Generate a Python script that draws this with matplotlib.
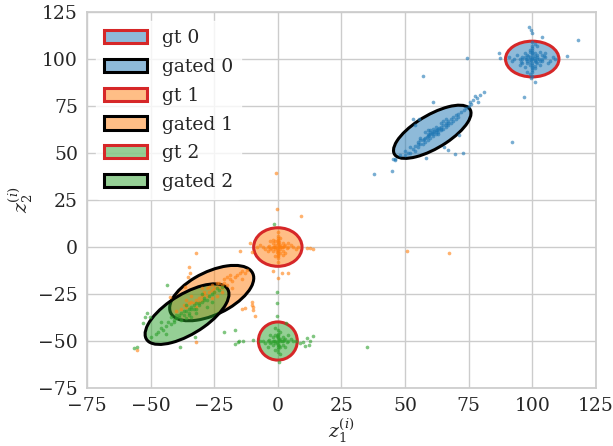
import matplotlib
matplotlib.use('Agg')
import matplotlib.pyplot as plt
from matplotlib.patches import Ellipse, Patch
import numpy as np
import seaborn as sns

# ---- points ----------------------------------------------------------------
blue_gt_x = [100, 99, 101, 98, 102, 100, 100, 97, 103, 99, 101, 96, 104, 100, 100, 98, 102, 98, 102,
             95, 105, 100, 100, 93, 107, 99, 101, 91, 109, 97, 103, 96, 104, 99, 101, 94, 106, 100, 100,
             92, 108, 97, 103, 95, 105, 98, 102,
             100, 99.5, 100.5, 99, 101, 100, 100, 98.5, 101.5, 99, 101, 97.5, 102.5, 100, 100, 96, 104,
             98, 102, 99, 101, 100, 100, 95.5, 104.5,
             98.7, 99.4, 99.8, 104, 118, 113.7, 87, 87.3, 101, 99.4, 96.8]
blue_gt_y = [100, 101, 99, 100, 100, 98, 102, 101, 99, 97, 103, 100, 100, 96, 104, 98, 102, 102, 98,
             100, 101, 94, 106, 100, 99, 92, 108, 101, 100, 103, 97, 98, 102, 105, 95, 102, 98, 91, 109,
             99, 101, 96, 104, 97, 103, 93, 107,
             100.5, 99.5, 100.5, 100, 99.5, 97, 103, 101.5, 98.5, 98.5, 101.5, 100, 100, 95, 105, 101, 99,
             99, 101, 103.5, 96.5, 93, 107, 98.5, 101.5,
             117, 115.5, 114, 111.5, 110, 101.6, 103, 100.7, 87.6, 90, 80]

blue_gated_x = [48, 50, 51, 52, 53, 54, 55, 55, 56, 57, 57, 58, 58, 59, 59, 60, 60, 61, 61, 62, 62, 63,
                63, 64, 64, 65, 65, 66, 66, 67, 67, 68, 69, 69, 70, 71, 71, 72, 73, 74, 75, 76, 56, 60,
                64, 68, 52, 62, 58, 66, 70, 50, 46, 54, 61, 63, 59, 65,
                57.5, 58.5, 59.5, 60.5, 61.5, 62.5, 63.5, 60, 61, 62, 59, 64, 56, 55, 66, 67,
                75.5, 76.8, 78.1, 78.8, 79.4, 81.1, 77.5, 57.1, 61.1, 74.4, 91.9, 44.7, 58.4, 69.6,
                72.6, 67, 65.3, 71.2, 53.2, 55.6, 53.9, 45.4, 37.9, 46]
blue_gated_y = [49, 51, 50, 53, 52, 54, 53, 56, 55, 57, 55, 58, 56, 59, 57, 60, 58, 61, 59, 62, 60, 63,
                61, 64, 62, 65, 63, 66, 64, 67, 65, 68, 69, 67, 70, 71, 69, 72, 73, 74, 75, 76, 58, 62,
                66, 66, 50, 64, 61, 68, 68, 49, 47, 51, 63, 60, 62, 67,
                57.5, 58.5, 59.5, 60.5, 61.5, 62.5, 63.5, 61, 60, 61, 60, 63, 57, 55, 65, 66,
                77.3, 78.2, 79.1, 77.3, 80.8, 82.3, 80.3, 91, 77.3, 100.7, 55.7, 40.6, 47.5, 49.3,
                49.8, 51.6, 53.4, 59.6, 68.1, 68.1, 64.9, 46.7, 38.7, 46.3]

orange_gt_x = [0, 1, -1, 2, -2, 0, 0, 3, -3, 1, -1, 4, -4, 0, 0, 5, -5, 1, -1, 6, -6, 0, 0, 2, -2, 2,
               -2, 7, -7, 3, -3, 8, -8, 0, 0, 1, -1, 4, -4, 2, -2,
               0.5, -0.5, 0, 0, 1.5, -1.5, 0, 0, 2.5, -2.5, 0.5, -0.5, 1, -1, 3.5, -3.5, 0, 0,
               -0.7, -0.2, 9, 11.3, 12.6, 13.7, -11, -10.3, 4.1, 1.5, 0.2, -1.8, 50.6, 67.2]
orange_gt_y = [0, 1, -1, 0, 0, 2, -2, 1, -1, -3, 3, 0, 0, 4, -4, 1, -1, 5, -5, 0, 0, 6, -6, 2, -2, -2,
               2, -1, 1, -3, 3, 0, 0, 8, -8, -1, 1, 2, -2, -4, 4,
               0.5, -0.5, 1.5, -1.5, 0, 0, 3, -3, 0.5, -0.5, 2.5, -2.5, 0, 0, -0.5, 0.5, 5, -5,
               39.2, 20, 16.5, -0.7, -0.7, -1, 2.3, -2.5, -14, -13.7, -16.6, -12.8, -2, -3.4]

orange_gated_x = [-40, -38, -37, -36, -35, -34, -33, -32, -31, -30, -30, -29, -28, -27, -26, -25, -24,
                  -23, -22, -21, -20, -19, -18, -17, -16, -15, -14, -13, -12, -28, -24, -20, -32, -26,
                  -18, -34, -22, -36, -14, -30,
                  -27, -25, -23, -21, -29, -19, -26, -24, -22, -31,
                  -32.3, -34.8, -14.9, -34.5, -35.2, -36.5, -42.4, -9.7, -9, -10.3, -32.2, -55.5,
                  -10, -9.7, -12.9, -14.2]
orange_gated_y = [-34, -33, -31, -32, -30, -29, -30, -28, -27, -26, -28, -25, -26, -24, -23, -24, -21,
                  -22, -20, -19, -20, -17, -18, -16, -15, -14, -13, -14, -12, -22, -26, -16, -32, -20,
                  -22, -26, -24, -28, -17, -22,
                  -21, -22, -19, -17, -24, -15, -27, -19, -22, -29,
                  -3.4, -10.8, -2, -14, -15.8, -21.1, -26.8, -31.8, -36.5, -29.1, -50.4, -54.8,
                  -30.9, -33.5, -32.6, -33]

green_gt_x = [0, 1, -1, 2, -2, 0, 0, 3, -3, 1, -1, 4, -4, 0, 0, 5, -5, 1, -1, 6, -6, 0, 0, 2, -2, 2,
              -2, 3, -3, -4, 4, 1, -1, 7, -7,
              0.5, -0.5, 0, 0, 1.5, -1.5, 0, 0, 2.5, -2.5, 0.5, -0.5, 1, -1, 3.5, -3.5,
              -1.5, -0.5, -0.5, -0.5, 3.2, -9.7, 8.7, 10, 11.6, 12.6, 13.7, 12.2, 10.7, 34.9, 0.6]
green_gt_y = [-50, -49, -51, -50, -50, -48, -52, -49, -51, -53, -47, -50, -50, -46, -54, -49, -51, -45,
              -55, -50, -50, -44, -56, -48, -52, -52, -48, -53, -47, -53, -47, -57, -43, -50, -50,
              -49.5, -50.5, -48.5, -51.5, -50, -50, -47, -53, -49.5, -50.5, -52.5, -47.5, -50, -50,
              -50.5, -49.5,
              12, -23.8, -30, -36.7, -40.6, -49.5, -51.2, -50.4, -48.6, -49.8, -47.2, -52.1, -52.5,
              -53, -61]

green_gated_x = [-50, -48, -47, -46, -45, -44, -43, -42, -41, -40, -40, -39, -38, -37, -36, -35, -35,
                 -34, -33, -32, -31, -30, -29, -28, -27, -26, -25, -24, -23, -22, -42, -38, -36, -32,
                 -30, -28, -44, -34, -26, -46,
                 -37, -35, -33, -31, -39, -29, -36, -34, -32, -41,
                 -43.5, -51.3, -50.2, -52.2, -52.9, -55.5, -56.5, -38.5, -32.6, -21.1, -16.8, -15.2,
                 -13.6, -16.8, -15.5]
green_gated_y = [-48, -46, -45, -43, -44, -42, -40, -41, -39, -38, -36, -37, -35, -36, -34, -33, -36,
                 -32, -33, -30, -31, -29, -27, -28, -26, -25, -24, -22, -23, -21, -37, -39, -31, -35,
                 -25, -32, -46, -37, -29, -40,
                 -34, -35, -31, -30, -36, -28, -38, -33, -33, -40,
                 -20.2, -35.3, -37.1, -37.1, -40.6, -53.3, -53.9, -53, -47.7, -45, -44.1, -49.8,
                 -49.8, -51.6, -50.4]

# ellipses: centre x, centre y, width, height, angle
gt_ell = [(100, 100, 21, 19, 0), (0, 0, 19, 20.5, 0), (0, -50, 15.3, 20.3, 0)]
gated_ell = [(60.7, 61.3, 38.4, 16, 42), (-26, -24.5, 39, 21, 39), (-35.7, -35.7, 42, 19, 44)]
labels = ['0', '1', '2']
colors = ['#1f77b4', '#ff7f0e', '#2ca02c']
red = '#d62728'

sns.set_theme(style='whitegrid')
plt.rcParams['font.family'] = ['DejaVu Serif']
plt.rcParams['mathtext.fontset'] = 'dejavuserif'

fig = plt.figure(figsize=(6.13, 4.46), dpi=100)
ax = fig.add_axes([0.142, 0.130, 0.830, 0.843])

pts = [(blue_gt_x + blue_gated_x, blue_gt_y + blue_gated_y),
       (orange_gt_x + orange_gated_x, orange_gt_y + orange_gated_y),
       (green_gt_x + green_gated_x, green_gt_y + green_gated_y)]

handles = []
for k in range(3):
    fc = matplotlib.colors.to_rgba(colors[k], 0.5)
    for (ex, ey, w, h, a), ec in ((gt_ell[k], red), (gated_ell[k], 'black')):
        ax.add_patch(Ellipse((ex, ey), w, h, angle=a, facecolor=fc,
                             edgecolor=ec, linewidth=2.2, zorder=2))
    handles.append(Patch(facecolor=fc, edgecolor=red, linewidth=2.2, label='gt ' + labels[k]))
    handles.append(Patch(facecolor=fc, edgecolor='black', linewidth=2.2, label='gated ' + labels[k]))

for k in range(3):
    ax.scatter(pts[k][0], pts[k][1], s=7, color=colors[k], alpha=0.6, linewidths=0, zorder=3)

ax.set_xlim(-75, 125)
ax.set_ylim(-75, 125)
ax.set_xticks(np.arange(-75, 126, 25))
ax.set_yticks(np.arange(-75, 126, 25))
ax.tick_params(labelsize=13.5, pad=0.5)
ax.set_xlabel(r'$z_1^{(i)}$', fontsize=13.5, labelpad=1)
ax.set_ylabel(r'$z_2^{(i)}$', fontsize=13.5, labelpad=2)
leg = ax.legend(handles=handles, loc='upper left', fontsize=13.5, handlelength=2.3, labelspacing=0.58)
leg.get_frame().set_edgecolor('white')

fig.savefig('out.png', dpi=100)
